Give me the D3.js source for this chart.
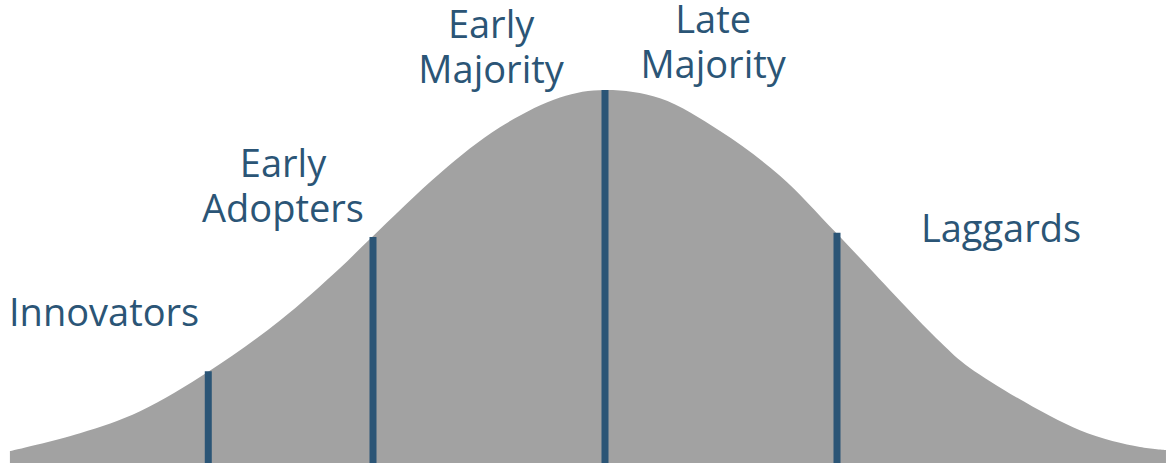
<!DOCTYPE html>
<html>
<head>
<meta charset="utf-8">
<script src="https://cdn.jsdelivr.net/npm/d3@7"></script>
<style>
html,body{margin:0;padding:0;background:#fff;}
svg{display:block;}
</style>
</head>
<body>
<svg id="chart" width="1166" height="463"></svg>
<script>
// Adoption curve: position in standard deviations from the mean, relative height (peak = 100)
const curveT = [-2.565, -2.263, -2.004, -1.707, -1.401, -1.142, -1.004, -0.711, -0.453, -0.194, 0, 0.237, 0.496, 0.754, 0.996, 1.444, 1.573, 2.047, 2.306, 2.418];
const curveH = [3.2, 8.0, 13.9, 24.6, 38.2, 52.3, 60.6, 77.7, 90.0, 98.0, 100, 97.8, 89.0, 77.0, 61.7, 32.5, 25.5, 8.8, 4.3, 3.5];

// Segment boundaries (in standard deviations) and the curve height at each
const boundaryT = [-1.71, -1, 0, 1];
const boundaryH = [24.6, 60.6, 100, 61.7];

// Category labels: text lines, centre position (sd), first-line baseline height (relative units)
const categories = ["Innovators", "Early Adopters", "Early Majority", "Late Majority", "Laggards"];
const labelLines = [["Innovators"], ["Early", "Adopters"], ["Early", "Majority"], ["Late", "Majority"], ["Laggards"]];
const labelT = [-2.159, -1.388, -0.491, 0.466, 1.707];
const labelH = [36.7, 76.7, 113.9, 115.3, 59.2];

const width = 1166, height = 463;
const svg = d3.select("#chart");

const x = d3.scaleLinear().domain([0 - 605/232, (1166 - 605)/232]).range([0, width]);
const y = d3.scaleLinear().domain([0, 100]).range([height, 90]);

const pts = curveT.map((t, i) => [t, curveH[i]]);

const area = d3.area()
  .x(d => x(d[0]))
  .y0(height)
  .y1(d => y(d[1]))
  .curve(d3.curveCatmullRom.alpha(0.5));

svg.append("path")
  .datum(pts)
  .attr("d", area)
  .attr("fill", "#a2a2a2");

const blue = "#2b5576";

svg.selectAll("line.bound")
  .data(boundaryT)
  .join("line")
  .attr("class", "bound")
  .attr("x1", d => x(d))
  .attr("x2", d => x(d))
  .attr("y1", height)
  .attr("y2", (d, i) => y(boundaryH[i]))
  .attr("stroke", blue)
  .attr("stroke-width", 7);

const lineGap = 45;
const g = svg.selectAll("text.lab")
  .data(categories)
  .join("text")
  .attr("class", "lab")
  .attr("font-family", "'Open Sans', 'Noto Sans', sans-serif")
  .attr("font-size", 38)
  .attr("fill", blue)
  .attr("text-anchor", "middle");

g.each(function(d, i) {
  const lines = labelLines[i];
  const baseY = y(labelH[i]);
  d3.select(this).selectAll("tspan")
    .data(lines)
    .join("tspan")
    .attr("x", x(labelT[i]))
    .attr("y", (l, j) => baseY + j * lineGap)
    .text(l => l);
});
</script>
</body>
</html>
